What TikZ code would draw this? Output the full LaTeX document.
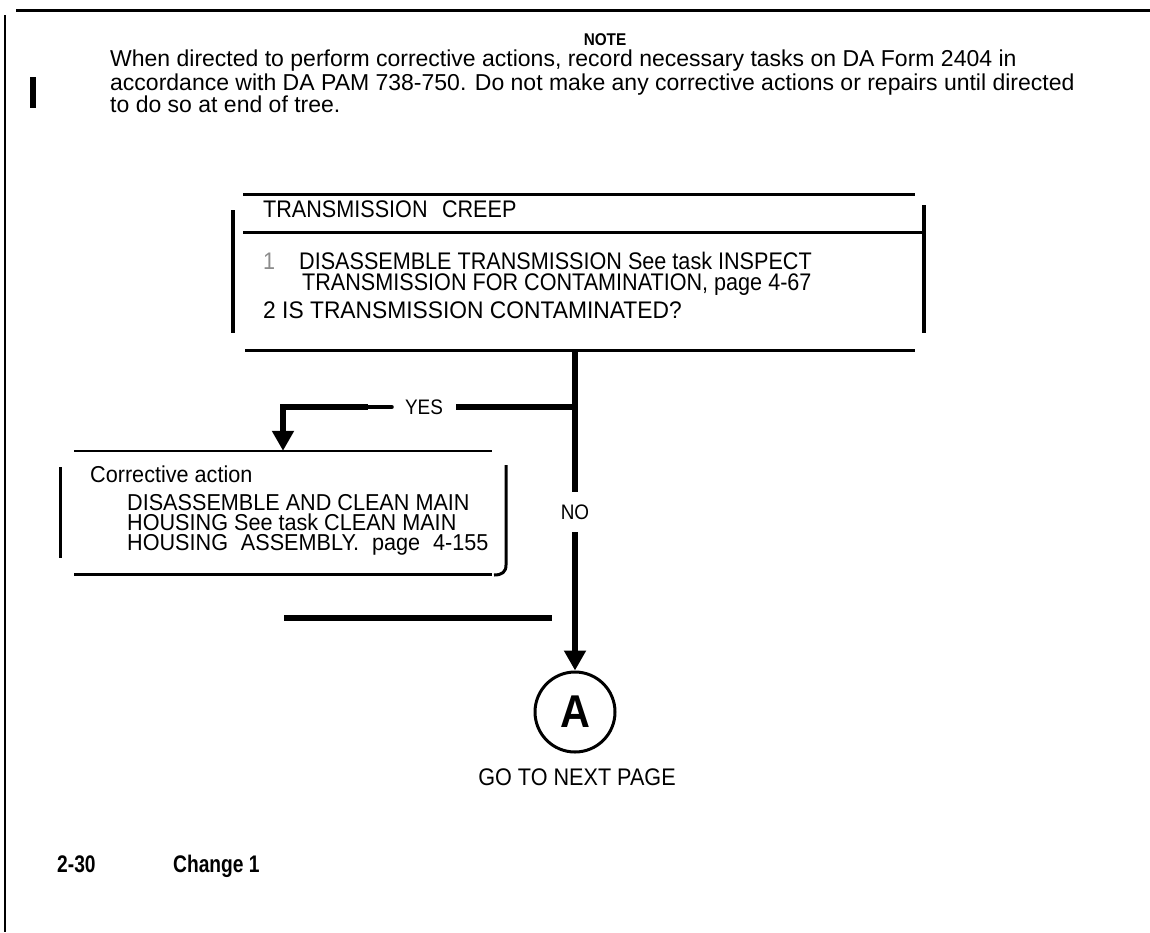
\documentclass[tikz,border=0pt]{standalone}
\usepackage{fontspec}
\setmainfont{Liberation Sans}[FakeStretch=0.9]
\newfontfamily\notefont{Liberation Sans}[FakeStretch=1.0]
\newfontfamily\widefont{Liberation Sans}[FakeStretch=0.95]
\newfontfamily\boxtwofont{Liberation Sans}[FakeStretch=0.94]
\newfontfamily\footfont{Liberation Sans}[FakeStretch=0.8]
\usetikzlibrary{arrows.meta,fit}
\begin{document}
\begin{tikzpicture}[x=1pt,y=-1pt,
  txt/.style={anchor=base west, inner sep=0pt, font=\fontsize{24}{28}\selectfont},
  btxt/.style={anchor=base west, inner sep=0pt, font=\boxtwofont\fontsize{23}{26}\selectfont},
  notetxt/.style={anchor=base west, inner sep=0pt, font=\notefont\fontsize{23}{26}\selectfont},
  lbl/.style={inner sep=0pt, font=\fontsize{21}{24}\selectfont},
  foot/.style={anchor=base west, inner sep=0pt, font=\footfont\bfseries\fontsize{24}{28}\selectfont},
  heavy/.style={line width=6pt},
  rulel/.style={line width=3pt},
  thinl/.style={line width=2pt},
  bar/.style={line width=3.5pt},
  tipd/.style={-{Triangle[length=20pt 0 0,width=21pt 0 0]}},
]
\useasboundingbox (0,0) rectangle (1150,932);

% page frame
\draw[rulel] (16,10) -- (1150,10);
\draw[thinl] (5,15) -- (5,932);
\draw[heavy] (33,77) -- (33,108);

% note
\node[anchor=base, inner sep=0pt, font=\bfseries\fontsize{17}{20}\selectfont] (note) at (605,45) {NOTE};
\node[notetxt] (n1) at (110,66) {When directed to perform corrective actions, record necessary tasks on DA Form 2404 in};
\node[notetxt] (n2) at (110,90) {accordance with DA PAM 738-750. Do not make any corrective actions or repairs until directed};
\node[notetxt] (n3) at (110,112) {to do so at end of tree.};

% box 1
\coordinate (b1a) at (233,194);
\coordinate (b1b) at (924,350);
\node[fit=(b1a)(b1b), inner sep=0pt] (box1) {};
\draw[rulel] (243,194) -- (915,194);
\draw[rulel] (243,232) -- (923,232);
\draw[rulel] (245,350) -- (915,350);
\draw[bar] (233,210) -- (233,333);
\draw[bar] (924,205) -- (924,333);
\node[txt] (t0) at (263,217) {TRANSMISSION\hspace{0.6em}CREEP};
\node[txt, text=black!45] (t1n) at (263,269) {1};
\node[txt] (t1) at (299,269) {DISASSEMBLE TRANSMISSION See task INSPECT};
\node[txt] (t2) at (302,290) {TRANSMISSION FOR CONTAMINATION, page 4-67};
\node[txt, font=\widefont\fontsize{24}{28}\selectfont] (t3) at (263,318) {2 IS TRANSMISSION CONTAMINATED?};

% box 2
\coordinate (b2a) at (60,451);
\coordinate (b2b) at (506,575);
\node[fit=(b2a)(b2b), inner sep=0pt] (box2) {};
\draw[thinl] (74,451) -- (492,451);
\draw[rulel] (74,574) -- (492,574);
\draw[line width=3pt] (60,467) -- (60,558);
\draw[line width=3pt] (506,465) -- (506,565) .. controls (506,572) and (502,575) .. (494,575);
\node[btxt] (c0) at (90,482) {Corrective action};
\node[btxt] (c1) at (127,510) {DISASSEMBLE AND CLEAN MAIN};
\node[btxt] (c2) at (127,530) {HOUSING See task CLEAN MAIN};
\node[btxt] (c3) at (127,550) {HOUSING\hspace{0.3em} ASSEMBLY.\hspace{0.3em} page\hspace{0.3em} 4-155};

% labels
\node[lbl, minimum width=64pt, minimum height=20pt] (yes) at (424,407) {YES};
\node[lbl, minimum height=40pt] (no) at (575,512) {NO};
\coordinate (j) at (575,407);
\coordinate (elbow) at (283,407);

% circle
\node[draw, circle, line width=3pt, minimum size=80pt, inner sep=0pt,
      font=\bfseries\fontsize{46}{50}\selectfont] (circ) at (575,712) {A};
\node[anchor=base, inner sep=0pt, font=\fontsize{24}{28}\selectfont] (go) at (577,785) {GO TO NEXT PAGE};

% connectors
\draw[heavy] (box1.south -| no) -- (no.north);
\draw[heavy, tipd] (no.south) -- (circ.north);
\draw[heavy] (j) -- (yes.east);
\draw[line width=4pt, line cap=round] (yes.west) -- ++(-26,0);
\draw[heavy, tipd] ([xshift=-24pt]yes.west) -- (elbow) -- (elbow |- box2.north);
\coordinate (lb1) at (284,618);
\coordinate (lb2) at (552,618);
\draw[heavy] (lb1) -- (lb2);

% footer
\node[foot] (pg) at (57,872) {2-30};
\node[foot] (chg) at (173,872) {Change 1};
\end{tikzpicture}
\end{document}
